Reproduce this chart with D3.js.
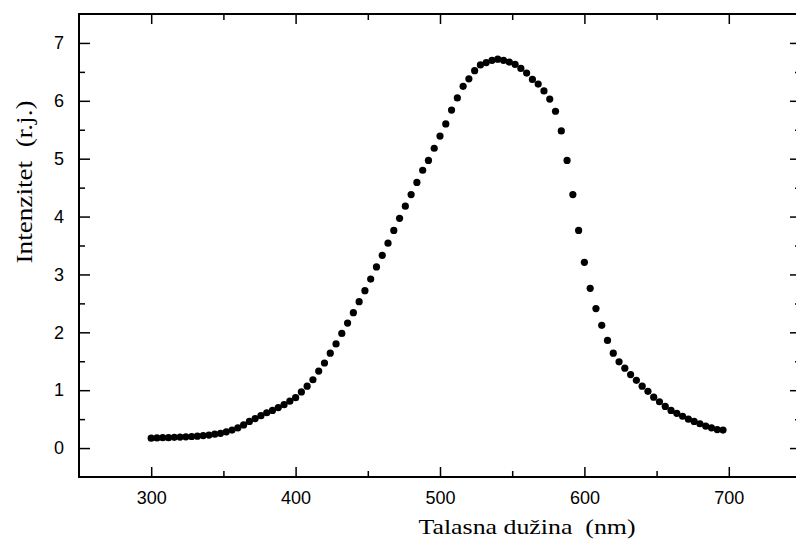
<!DOCTYPE html>
<html>
<head>
<meta charset="utf-8">
<script src="https://cdn.jsdelivr.net/npm/d3@7"></script>
<style>
  body { margin: 0; background: #fff; }
  svg { display: block; }
  .title { white-space: pre; }
</style>
</head>
<body>
<script>
// talasna duzina (nm)
const wavelengths = [
  300, 304, 308, 312, 316, 320, 324, 328, 332, 336, 340, 344, 348, 352, 356, 360, 364, 368, 372, 376, 380, 384, 388, 392, 396,
  400, 404, 408, 412, 416, 420, 424, 428, 432, 436, 440, 444, 448, 452, 456, 460, 464, 468, 472, 476, 480, 484, 488, 492, 496,
  500, 504, 508, 512, 516, 520, 524, 528, 532, 536, 540, 544, 548, 552, 556, 560, 564, 568, 572, 576, 580, 584, 588, 592, 596,
  600, 604, 608, 612, 616, 620, 624, 628, 632, 636, 640, 644, 648, 652, 656, 660, 664, 668, 672, 676, 680, 684, 688, 692, 696
];
// intenzitet (r.j.)
const intensity = [
  0.17, 0.175, 0.18, 0.18, 0.185, 0.19, 0.195, 0.20, 0.205, 0.215, 0.225, 0.24, 0.255, 0.28, 0.31, 0.35, 0.40, 0.46, 0.51, 0.56, 0.61, 0.65, 0.70, 0.75, 0.81,
  0.87, 0.97, 1.07, 1.18, 1.33, 1.47, 1.64, 1.80, 1.98, 2.16, 2.34, 2.53, 2.72, 2.92, 3.13, 3.33, 3.54, 3.76, 3.97, 4.18, 4.38, 4.59, 4.80, 4.97, 5.18,
  5.39, 5.60, 5.84, 6.05, 6.25, 6.38, 6.52, 6.62, 6.66, 6.70, 6.72, 6.70, 6.67, 6.63, 6.56, 6.48, 6.37, 6.29, 6.17, 6.03, 5.82, 5.48, 4.97, 4.38, 3.76,
  3.21, 2.76, 2.41, 2.12, 1.86, 1.64, 1.49, 1.38, 1.27, 1.17, 1.07, 0.98, 0.88, 0.80, 0.72, 0.65, 0.60, 0.55, 0.50, 0.46, 0.42, 0.38, 0.35, 0.32, 0.31
];

const xMajor = [300, 400, 500, 600, 700];
const xMinor = [350, 450, 550, 650];
const yMajor = [0, 1, 2, 3, 4, 5, 6, 7];
const yMinor = [0.5, 1.5, 2.5, 3.5, 4.5, 5.5, 6.5];
const xTitle = 'Talasna dužina  (nm)';
const yTitle = 'Intenzitet  (r.j.)';

const width = 796;
const height = 546;
const margin = { top: 14, right: -5, bottom: 69, left: 79 };

const svg = d3.select('body')
  .append('svg')
  .attr('width', width)
  .attr('height', height);

const x0 = margin.left;
const x1 = width - margin.right;
const y0 = height - margin.bottom;
const y1 = margin.top;

const xScale = d3.scaleLinear().domain([250, 750]).range([x0, x1]);
const yScale = d3.scaleLinear().domain([-0.5, 7.5]).range([y0, y1]);

const tickFont = '"Liberation Sans", Arial, sans-serif';

function styleAxis(g) {
  g.select('.domain').remove();
  g.selectAll('line').attr('stroke', '#000').attr('stroke-width', 1.5);
  g.selectAll('text')
    .attr('fill', '#000')
    .style('font-family', tickFont)
    .style('font-size', '18px');
}

// x osa (dole)
svg.append('g')
  .attr('transform', `translate(0, ${y0})`)
  .call(d3.axisBottom(xScale).tickValues(xMajor).tickSize(-10).tickPadding(14).tickFormat(d3.format('d')))
  .call(styleAxis);
svg.append('g')
  .attr('transform', `translate(0, ${y0})`)
  .call(d3.axisBottom(xScale).tickValues(xMinor).tickSize(-6).tickFormat(''))
  .call(styleAxis);

// x osa (gore)
svg.append('g')
  .attr('transform', `translate(0, ${y1})`)
  .call(d3.axisTop(xScale).tickValues(xMajor).tickSize(-10).tickFormat(''))
  .call(styleAxis);
svg.append('g')
  .attr('transform', `translate(0, ${y1})`)
  .call(d3.axisTop(xScale).tickValues(xMinor).tickSize(-6).tickFormat(''))
  .call(styleAxis);

// y osa (levo)
svg.append('g')
  .attr('transform', `translate(${x0}, 0)`)
  .call(d3.axisLeft(yScale).tickValues(yMajor).tickSize(-11).tickPadding(15).tickFormat(d3.format('d')))
  .call(styleAxis);
svg.append('g')
  .attr('transform', `translate(${x0}, 0)`)
  .call(d3.axisLeft(yScale).tickValues(yMinor).tickSize(-6).tickFormat(''))
  .call(styleAxis);

// y osa (desno)
svg.append('g')
  .attr('transform', `translate(${x1}, 0)`)
  .call(d3.axisRight(yScale).tickValues(yMajor).tickSize(-11).tickFormat(''))
  .call(styleAxis);
svg.append('g')
  .attr('transform', `translate(${x1}, 0)`)
  .call(d3.axisRight(yScale).tickValues(yMinor).tickSize(-6).tickFormat(''))
  .call(styleAxis);

// okvir
svg.append('rect')
  .attr('x', x0)
  .attr('y', y1)
  .attr('width', x1 - x0)
  .attr('height', y0 - y1)
  .attr('fill', 'none')
  .attr('stroke', '#000')
  .attr('stroke-width', 2);

// tacke
svg.append('g')
  .selectAll('circle')
  .data(wavelengths)
  .join('circle')
  .attr('cx', (d) => xScale(d))
  .attr('cy', (d, i) => yScale(intensity[i]))
  .attr('r', 3.6)
  .attr('fill', '#000');

// naslovi osa
svg.append('text')
  .attr('class', 'title')
  .attr('x', 527)
  .attr('y', 534)
  .attr('text-anchor', 'middle')
  .attr('textLength', 217)
  .attr('lengthAdjust', 'spacingAndGlyphs')
  .style('font-family', '"Liberation Serif", "Times New Roman", serif')
  .style('font-size', '22px')
  .attr('fill', '#000')
  .text(xTitle);

svg.append('text')
  .attr('class', 'title')
  .attr('transform', 'translate(32, 182) rotate(-90)')
  .attr('text-anchor', 'middle')
  .attr('textLength', 163)
  .attr('lengthAdjust', 'spacingAndGlyphs')
  .style('font-family', '"Liberation Serif", "Times New Roman", serif')
  .style('font-size', '24px')
  .attr('fill', '#000')
  .text(yTitle);
</script>
</body>
</html>
